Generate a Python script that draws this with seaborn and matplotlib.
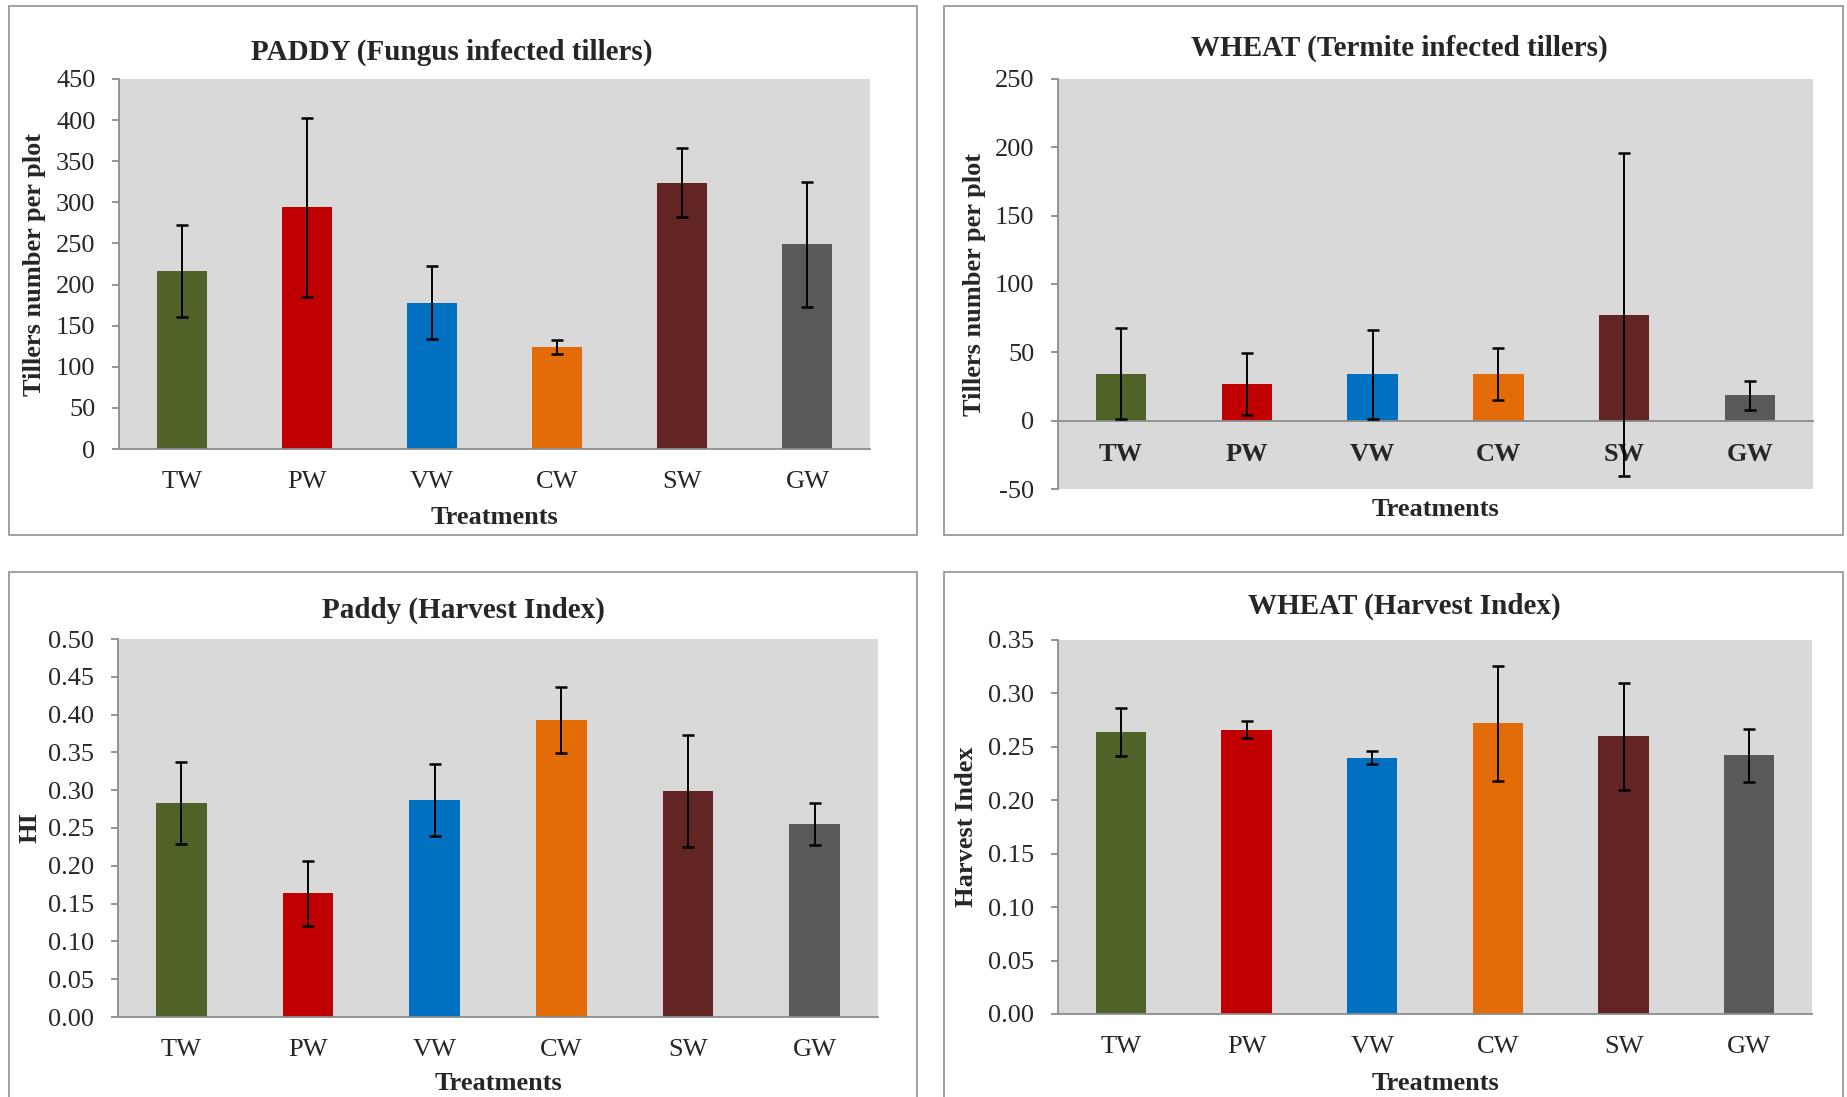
import numpy as np
import pandas as pd
import matplotlib
matplotlib.use("Agg")
import matplotlib.pyplot as plt
import seaborn as sns
from matplotlib.patches import Rectangle
from matplotlib.ticker import MultipleLocator, FixedLocator, FormatStrFormatter

# ---------------- data ----------------
treatments = ["TW", "PW", "VW", "CW", "SW", "GW"]
colors = ["#4F6228", "#C00000", "#0070C0", "#E36C09", "#632523", "#595959"]

paddy_tillers = [217, 294, 178, 124, 324, 249]
paddy_tillers_err = [56, 109, 44, 9, 42, 76]

wheat_tillers = [34.5, 27, 34, 34, 77.5, 18.5]
wheat_tillers_err = [33.5, 22.5, 32.5, 19, 118, 10.7]

paddy_hi = [0.283, 0.164, 0.287, 0.393, 0.299, 0.255]
paddy_hi_err = [0.054, 0.043, 0.047, 0.044, 0.074, 0.028]

wheat_hi = [0.264, 0.266, 0.240, 0.272, 0.260, 0.242]
wheat_hi_err = [0.0225, 0.008, 0.006, 0.0535, 0.050, 0.025]

titles = ["PADDY (Fungus infected tillers)", "WHEAT (Termite infected tillers)",
          "Paddy (Harvest Index)", "WHEAT (Harvest Index)"]
ylabels = ["Tillers number per plot", "Tillers number per plot", "HI", "Harvest Index"]
xlabel = "Treatments"

# ---------------- style ----------------
sns.set_style("white")
plt.rcParams["font.family"] = ["Liberation Serif", "DejaVu Serif"]
plt.rcParams["axes.linewidth"] = 1.0

W, H = 1847, 1097
fig = plt.figure(figsize=(W / 100, H / 100), dpi=100)
fig.patch.set_facecolor("white")

def fx(x):
    return x / W

def fy(y):
    return 1 - y / H

AXIS_COL = "#8C8C8C"
BOX_COL = "#9A9A9A"
TICK_PT = 19
LABEL_PT = 19
TITLE_PT = 21

# panel boxes (pixel coords, top-origin)
boxes = [(9, 6, 917, 535), (944, 6, 1843, 535), (9, 572, 917, 1120), (944, 572, 1843, 1120)]
for (l, t, r, b) in boxes:
    fig.add_artist(Rectangle((fx(l), fy(b)), (r - l) / W, (b - t) / H,
                             transform=fig.transFigure, fill=False,
                             edgecolor=BOX_COL, linewidth=1.3))

panels = [
    dict(vals=paddy_tillers, errs=paddy_tillers_err, rect=(119, 79, 870, 449),
         ylim=(0, 450), step=50, fmt="%d", bold=False,
         title_xy=(452, 52), xl_y=517, yl_x=35),
    dict(vals=wheat_tillers, errs=wheat_tillers_err, rect=(1058, 79, 1813, 489),
         ylim=(-50, 250), step=50, fmt="%d", bold=True,
         title_xy=(1399, 48), xl_y=510, yl_x=974),
    dict(vals=paddy_hi, errs=paddy_hi_err, rect=(118, 639, 878, 1017),
         ylim=(0, 0.5), step=0.05, fmt="%.2f", bold=False,
         title_xy=(463, 610), xl_y=1084, yl_x=30),
    dict(vals=wheat_hi, errs=wheat_hi_err, rect=(1058, 640, 1812, 1014),
         ylim=(0, 0.35), step=0.05, fmt="%.2f", bold=False,
         title_xy=(1404, 606), xl_y=1084, yl_x=967),
]

for i, p in enumerate(panels):
    l, t, r, b = p["rect"]
    ax = fig.add_axes([fx(l), fy(b), (r - l) / W, (b - t) / H])
    ax.set_facecolor("#D9D9D9")
    df = pd.DataFrame({"treatment": treatments, "value": p["vals"], "err": p["errs"]})
    sns.barplot(data=df, x="treatment", y="value", hue="treatment",
                palette=colors, saturation=1, width=0.4, legend=False,
                linewidth=0, ax=ax, zorder=2)
    ax.errorbar(np.arange(len(treatments)), df["value"], yerr=df["err"],
                fmt="none", ecolor="black", elinewidth=1.4, capsize=4.3,
                capthick=1.8, zorder=4)
    ax.set_xlim(-0.5, len(treatments) - 0.5)
    ax.set_ylim(*p["ylim"])
    ax.yaxis.set_major_locator(MultipleLocator(p["step"]))
    ax.yaxis.set_major_formatter(FormatStrFormatter(p["fmt"]))
    ax.set_xlabel("")
    ax.set_ylabel("")

    for s in ["top", "right"]:
        ax.spines[s].set_visible(False)
    for s in ["left", "bottom"]:
        ax.spines[s].set_color(AXIS_COL)
        ax.spines[s].set_linewidth(1.3)
        ax.spines[s].set_zorder(3)
    if p["ylim"][0] < 0:
        ax.spines["bottom"].set_position(("data", 0))

    ax.set_xticks(range(len(treatments)))
    ax.set_xticklabels(treatments, fontsize=TICK_PT,
                       fontweight="bold" if p["bold"] else "normal")
    ax.xaxis.set_minor_locator(FixedLocator(np.arange(-0.5, len(treatments), 1.0)))
    ax.tick_params(axis="x", which="major", length=0, pad=16)
    ax.tick_params(axis="x", which="minor", length=5.8, width=1.3,
                   color=AXIS_COL, direction="out")
    ax.tick_params(axis="y", which="major", length=5, width=1.3, color=AXIS_COL,
                   direction="out", pad=12, labelsize=TICK_PT)
    ax.tick_params(axis="both", bottom=True, left=True)
    ax.grid(False)

    fig.text(fx(p["title_xy"][0]), fy(p["title_xy"][1]), titles[i],
             ha="center", va="center", fontsize=TITLE_PT, fontweight="bold")
    fig.text(fx((l + r) / 2), fy(p["xl_y"]), xlabel,
             ha="center", va="center", fontsize=LABEL_PT, fontweight="bold")
    fig.text(fx(p["yl_x"]), fy((t + b) / 2), ylabels[i], rotation=90,
             ha="center", va="center", fontsize=LABEL_PT, fontweight="bold")

fig.savefig("out.png", dpi=100, facecolor="white")
